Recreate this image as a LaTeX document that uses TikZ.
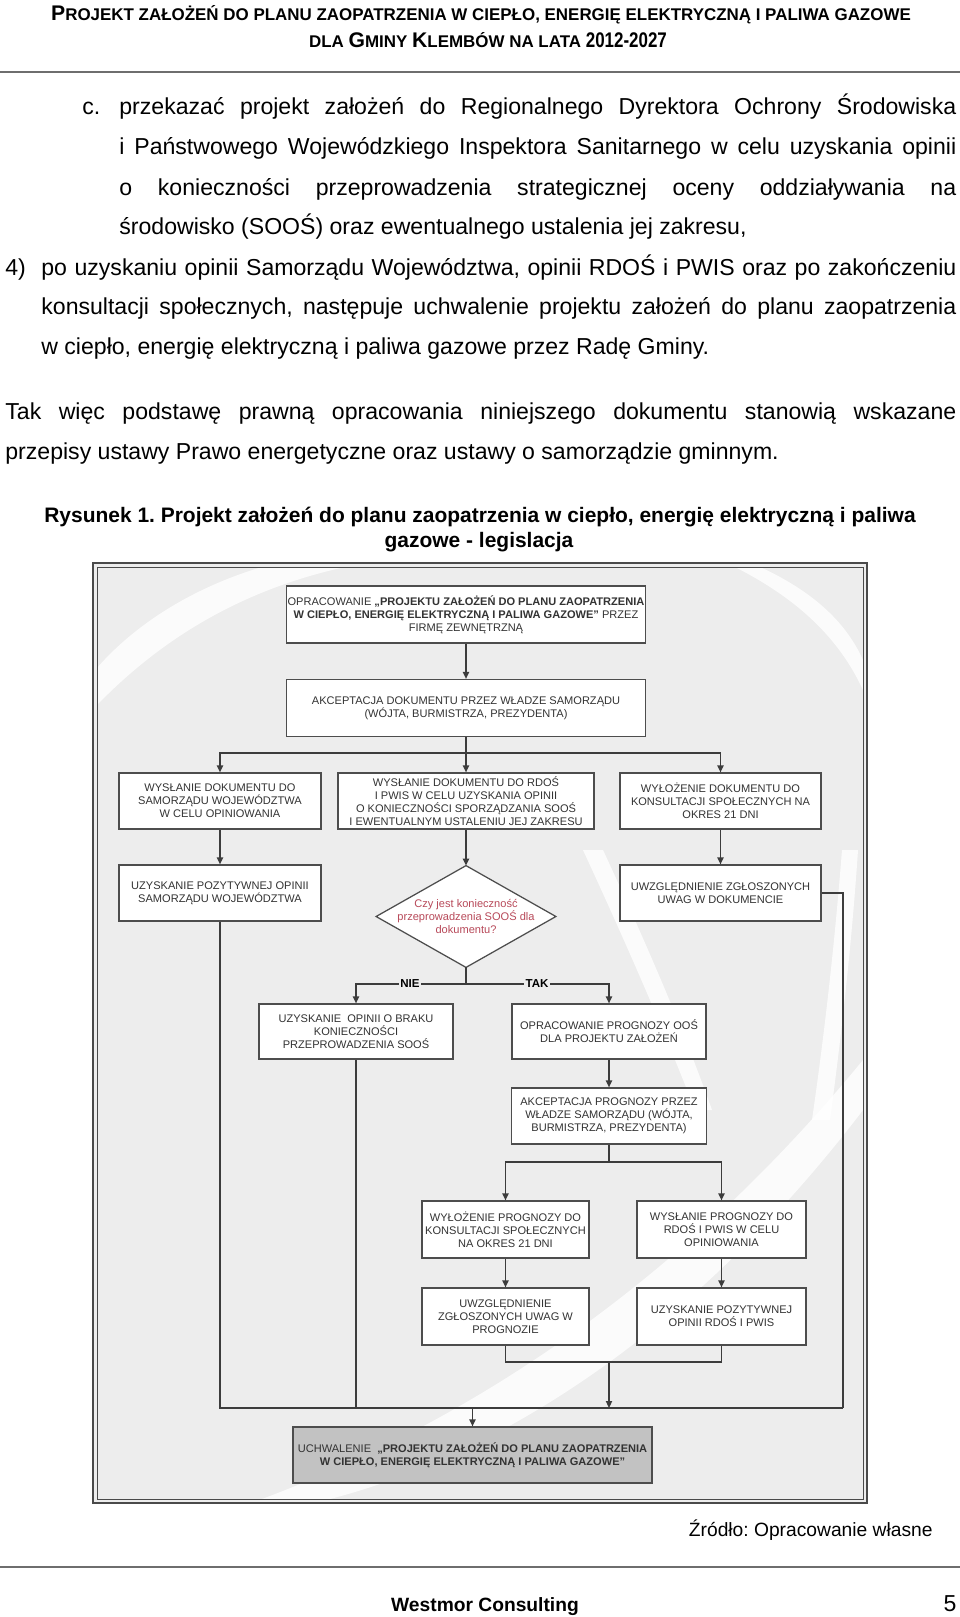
\documentclass[tikz,border=0pt]{standalone}
\usepackage{fontspec}
\setmainfont{Liberation Sans}
\usepackage{graphicx}
\usetikzlibrary{arrows.meta}
\definecolor{bgc}{HTML}{EDEDED}
\definecolor{framec}{HTML}{4A4A4A}
\definecolor{boxc}{HTML}{4D4D4D}
\definecolor{linec}{HTML}{3C3C3C}
\definecolor{txtc}{HTML}{333333}
\definecolor{redc}{HTML}{B84A5A}
\definecolor{uchc}{HTML}{C2C2C2}
\definecolor{rulec}{HTML}{6E6E6E}
\newsavebox\hdrA
\newsavebox\hdrB
\newlength\hdrw
\newcommand\bigc[1]{{\fontsize{10pt}{12pt}\selectfont #1}}
\newcommand\boxfont{\fontsize{5.75pt}{6.7pt}\selectfont}
\newcommand\jl[2]{\makebox[#1][s]{#2}}
\frenchspacing
\begin{document}
\sbox\hdrA{\bfseries\fontsize{8pt}{9pt}\selectfont\bigc{P}ROJEKT ZAŁOŻEŃ DO PLANU ZAOPATRZENIA W CIEPŁO, ENERGIĘ ELEKTRYCZNĄ I PALIWA GAZOWE}%
\sbox\hdrB{\bfseries\fontsize{8pt}{9pt}\selectfont DLA \bigc{G}MINY \bigc{K}LEMBÓW NA LATA \scalebox{0.8}[1]{\bigc{2012-2027}}}%
\setlength\hdrw{\wd\hdrA}%
\pgfmathsetmacro\hscale{447/\hdrw}%
\begin{tikzpicture}[x=0.52pt,y=-0.52pt,
  box/.style 2 args={draw=boxc, line width=0.65pt, fill=white, inner sep=0pt, align=center,
     minimum width=#1*0.52pt, minimum height=#2*0.52pt, font=\boxfont, text=txtc},
  conn/.style={draw=linec, line width=0.7pt},
  arr/.style={conn, -{Triangle[length=3.6pt,width=3.2pt]}},
  txt/.style={anchor=base west, inner sep=0pt, font=\fontsize{12pt}{14pt}\selectfont},
  captxt/.style={anchor=base, inner sep=0pt, font=\bfseries\fontsize{10.9pt}{13pt}\selectfont},
  lbl/.style={fill=bgc, inner sep=0.6pt, font=\bfseries\fontsize{6pt}{7pt}\selectfont, text=black},
  swoosh/.style={fill=white, opacity=0.8}]
\useasboundingbox (0,0) rectangle (960,1617);
\fill[white] (0,0) rectangle (960,1617);
% header
\node[anchor=base, inner sep=0pt] (h1) at (481,20) {\scalebox{\hscale}{\usebox\hdrA}};
\node[anchor=base, inner sep=0pt] (h2) at (488,47) {\scalebox{\hscale}{\usebox\hdrB}};
\draw[rulec, line width=1.2pt] (0,72) -- (960,72);
% body text
\node[txt] (c0) at (82,114) {c.};
\node[txt] (c1) at (119,114) {\jl{435.2pt}{przekazać projekt założeń do Regionalnego Dyrektora Ochrony Środowiska}};
\node[txt] (c2) at (119,154) {\jl{435.2pt}{i Państwowego Wojewódzkiego Inspektora Sanitarnego w celu uzyskania opinii}};
\node[txt] (c3) at (119,195) {\jl{435.2pt}{o konieczności przeprowadzenia strategicznej oceny oddziaływania na}};
\node[txt] (c4) at (119,234) {środowisko (SOOŚ) oraz ewentualnego ustalenia jej zakresu,};
\node[txt] (d0) at (5,275) {4)};
\node[txt] (d1) at (41,275) {\jl{475.8pt}{po uzyskaniu opinii Samorządu Województwa, opinii RDOŚ i PWIS oraz po zakończeniu}};
\node[txt] (d2) at (41,314) {\jl{475.8pt}{konsultacji społecznych, następuje uchwalenie projektu założeń do planu zaopatrzenia}};
\node[txt] (d3) at (41,354) {w ciepło, energię elektryczną i paliwa gazowe przez Radę Gminy.};
\node[txt] (t1) at (5,419) {\jl{494.5pt}{Tak więc podstawę prawną opracowania niniejszego dokumentu stanowią wskazane}};
\node[txt] (t2) at (5,459) {przepisy ustawy Prawo energetyczne oraz ustawy o samorządzie gminnym.};
\node[captxt] (r1) at (480,522) {Rysunek 1. Projekt założeń do planu zaopatrzenia w ciepło, energię elektryczną i paliwa};
\node[captxt] (r2) at (479,547) {gazowe - legislacja};
% frame
\draw[framec, line width=1pt, fill=bgc] (93,563) rectangle (867,1503);
\begin{scope}
\clip (97,567) rectangle (863,1499);
\fill[swoosh] (97,705) .. controls (160,640) and (240,590) .. (345,567) -- (262,567) .. controls (185,590) and (130,630) .. (97,668) -- cycle;
\fill[swoosh] (760,567) .. controls (810,590) and (845,620) .. (863,660) -- (863,690) .. controls (840,640) and (800,600) .. (735,567) -- cycle;
\fill[swoosh] (583,850) .. controls (620,930) and (660,1020) .. (695,1110) -- (712,1110) .. controls (680,1020) and (640,930) .. (603,850) -- cycle;
\fill[swoosh] (842,850) .. controls (835,940) and (825,1030) .. (812,1120) -- (830,1120) .. controls (842,1030) and (852,940) .. (858,850) -- cycle;
\fill[swoosh] (262,1499) .. controls (420,1440) and (650,1320) .. (863,1060) -- (863,1110) .. controls (680,1350) and (480,1460) .. (330,1499) -- cycle;
\end{scope}
\draw[framec, line width=0.5pt] (97,567) rectangle (863,1499);
% boxes
\node[box={359}{57}] (b1) at (466,614.5) {OPRACOWANIE \textbf{„PROJEKTU ZAŁOŻEŃ DO PLANU ZAOPATRZENIA}\\\textbf{W CIEPŁO, ENERGIĘ ELEKTRYCZNĄ I PALIWA GAZOWE”} PRZEZ\\FIRMĘ ZEWNĘTRZNĄ};
\node[box={359}{57}] (b2) at (466,708) {AKCEPTACJA DOKUMENTU PRZEZ WŁADZE SAMORZĄDU\\(WÓJTA, BURMISTRZA, PREZYDENTA)};
\node[box={202}{56}] (l1) at (220,801) {WYSŁANIE DOKUMENTU DO\\SAMORZĄDU WOJEWÓDZTWA\\W CELU OPINIOWANIA};
\node[box={256}{56}] (m1) at (466,801) {WYSŁANIE DOKUMENTU DO RDOŚ\\I PWIS W CELU UZYSKANIA OPINII\\O KONIECZNOŚCI SPORZĄDZANIA SOOŚ\\I EWENTUALNYM USTALENIU JEJ ZAKRESU};
\node[box={201}{56}] (r1b) at (720.5,801) {WYŁOŻENIE DOKUMENTU DO\\KONSULTACJI SPOŁECZNYCH NA\\OKRES 21 DNI};
\node[box={202}{56}] (l2) at (220,893) {UZYSKANIE POZYTYWNEJ OPINII\\SAMORZĄDU WOJEWÓDZTWA};
\node[box={201}{56}] (r2b) at (720.5,893) {UWZGLĘDNIENIE ZGŁOSZONYCH\\UWAG W DOKUMENCIE};
\node[draw=none, inner sep=0pt, minimum width=179*0.52pt, minimum height=101*0.52pt] (dia) at (466,916.5) {};
\draw[boxc, line width=0.65pt, fill=white] (dia.north) -- (dia.east) -- (dia.south) -- (dia.west) -- cycle;
\node[align=center, font=\boxfont, text=redc, inner sep=0pt] (diat) at (dia.center) {Czy jest konieczność\\przeprowadzenia SOOŚ dla\\dokumentu?};
\node[box={194}{55}] (nie) at (356,1031.5) {UZYSKANIE~~OPINII O BRAKU\\KONIECZNOŚCI\\PRZEPROWADZENIA SOOŚ};
\node[box={194}{55}] (tak) at (609,1031.5) {OPRACOWANIE PROGNOZY OOŚ\\DLA PROJEKTU ZAŁOŻEŃ};
\node[box={195}{56}] (ak2) at (609,1116) {AKCEPTACJA PROGNOZY PRZEZ\\WŁADZE SAMORZĄDU (WÓJTA,\\BURMISTRZA, PREZYDENTA)};
\node[box={167}{57}] (w1) at (505.5,1229.5) {WYŁOŻENIE PROGNOZY DO\\KONSULTACJI SPOŁECZNYCH\\NA OKRES 21 DNI};
\node[box={169}{57}] (w2) at (721.5,1229.5) {WYSŁANIE PROGNOZY DO\\RDOŚ I PWIS W CELU\\OPINIOWANIA};
\node[box={167}{57}] (u1) at (505.5,1316.5) {UWZGLĘDNIENIE\\ZGŁOSZONYCH UWAG W\\PROGNOZIE};
\node[box={169}{57}] (u2) at (721.5,1316.5) {UZYSKANIE POZYTYWNEJ\\OPINII RDOŚ I PWIS};
\node[box={359}{56}, fill=uchc] (uch) at (472.5,1455) {UCHWALENIE~~\textbf{„PROJEKTU ZAŁOŻEŃ DO PLANU ZAOPATRZENIA}\\\textbf{W CIEPŁO, ENERGIĘ ELEKTRYCZNĄ I PALIWA GAZOWE”}};
% connectors
\coordinate (j1) at (466,753);
\coordinate (j2) at (466,984);
\coordinate (j3) at (609,1162);
\coordinate (j4) at (609,1362);
\coordinate (j5) at (609,1408);
\coordinate (j6) at (472.5,1408);
\coordinate (bl) at (220,1408);
\coordinate (br) at (843,1408);
\draw[arr] (b1.south) -- (b2.north);
\draw[conn] (b2.south) -- (j1);
\draw[arr] (j1) -| (l1.north);
\draw[arr] (j1) -| (r1b.north);
\draw[arr] (j1) -- (m1.north);
\draw[arr] (l1.south) -- (l2.north);
\draw[arr] (m1.south) -- (dia.north);
\draw[arr] (r1b.south) -- (r2b.north);
\draw[conn] (dia.south) -- (j2);
\draw[arr] (j2) -| (nie.north);
\draw[arr] (j2) -| (tak.north);
\node[lbl] (nielbl) at (410,984) {NIE};
\node[lbl] (taklbl) at (537,984) {TAK};
\draw[arr] (tak.south) -- (ak2.north);
\draw[conn] (ak2.south) -- (j3);
\draw[arr] (j3) -| (w1.north);
\draw[arr] (j3) -| (w2.north);
\draw[arr] (w1.south) -- (u1.north);
\draw[arr] (w2.south) -- (u2.north);
\draw[conn] (u1.south) |- (j4) -| (u2.south);
\draw[arr] (j4) -- (j5);
\draw[conn] (l2.south) |- (br);
\draw[conn] (r2b.east) -| (br);
\draw[conn] (nie.south) -- (nie.south |- bl);
\draw[arr] (j6) -- (uch.north);
% source and footer
\node[anchor=base east, inner sep=0pt, font=\fontsize{10pt}{12pt}\selectfont] (src) at (933,1536) {Źródło: Opracowanie własne};
\draw[rulec, line width=1.2pt] (0,1567) -- (960,1567);
\node[anchor=base, inner sep=0pt, font=\bfseries\fontsize{10pt}{12pt}\selectfont] (ft) at (485,1611) {Westmor Consulting};
\node[anchor=base, inner sep=0pt, font=\fontsize{12pt}{14pt}\selectfont] (pg) at (950,1611) {5};
\end{tikzpicture}
\end{document}
